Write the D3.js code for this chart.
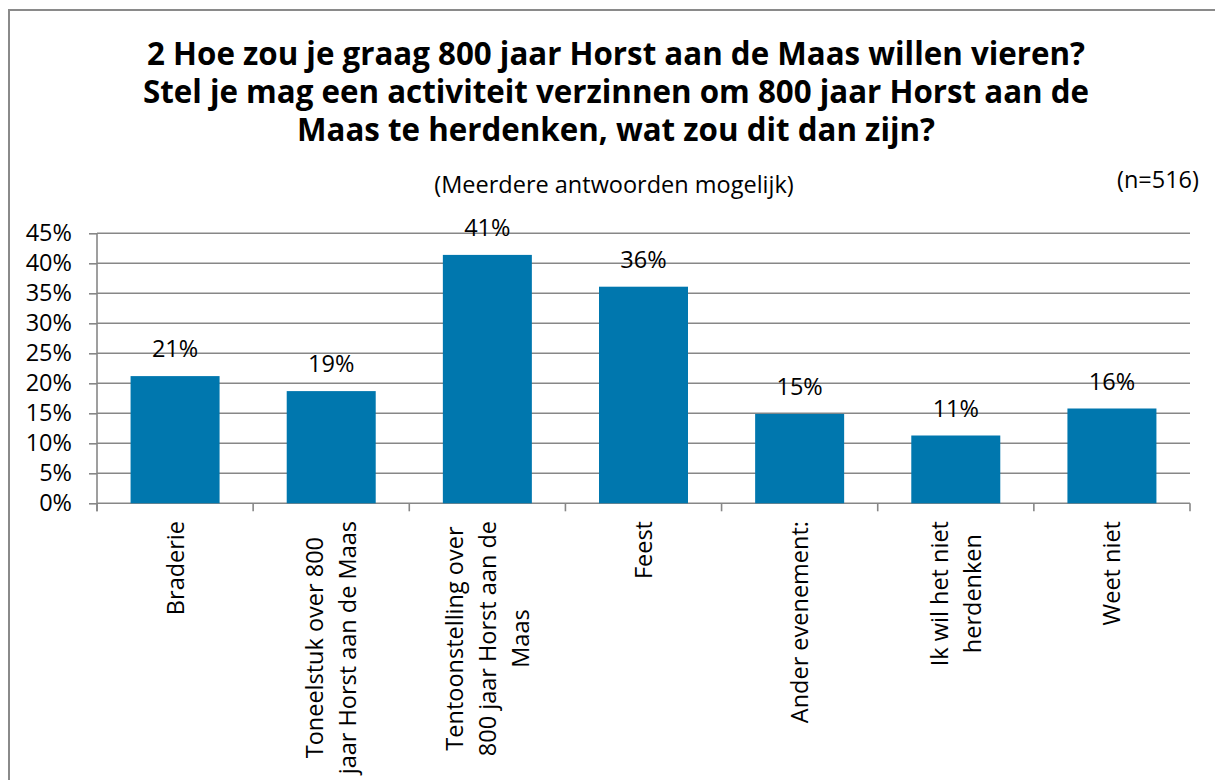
<!DOCTYPE html>
<html>
<head>
<meta charset="utf-8">
<script src="https://cdn.jsdelivr.net/npm/d3@7"></script>
<style>
  html, body { margin: 0; padding: 0; background: #fff; }
  svg { display: block; font-family: 'Open Sans', 'Noto Sans', sans-serif; }
</style>
</head>
<body>
<svg id="chart" width="1215" height="780"></svg>
<script>
const categories = [
  'Braderie',
  'Toneelstuk over 800 jaar Horst aan de Maas',
  'Tentoonstelling over 800 jaar Horst aan de Maas',
  'Feest',
  'Ander evenement:',
  'Ik wil het niet herdenken',
  'Weet niet',
]
// axis labels as Excel wrapped them
const categoryLines = [
  ['Braderie'],
  ['Toneelstuk over 800', 'jaar Horst aan de Maas'],
  ['Tentoonstelling over', '800 jaar Horst aan de', 'Maas'],
  ['Feest'],
  ['Ander evenement:'],
  ['Ik wil het niet', 'herdenken'],
  ['Weet niet'],
]
const values = [21.2, 18.7, 41.4, 36.1, 14.9, 11.3, 15.8]
const yTicks = [0, 5, 10, 15, 20, 25, 30, 35, 40, 45]
const titleLines = [
  '2 Hoe zou je graag 800 jaar Horst aan de Maas willen vieren?',
  'Stel je mag een activiteit verzinnen om 800 jaar Horst aan de',
  'Maas te herdenken, wat zou dit dan zijn?',
]
const subtitle = '(Meerdere antwoorden mogelijk)'
const sampleNote = '(n=516)'

const barColor = '#0077ae'
const gridColor = '#878787'
const fontSize = 23.5
const margin = { left: 97, right: 1190, top: 233.3, bottom: 503.3 }

const svg = d3.select('#chart')

// kader
svg
  .append('rect')
  .attr('x', 9)
  .attr('y', 10)
  .attr('width', 1230)
  .attr('height', 800)
  .attr('fill', '#fff')
  .attr('stroke', '#8a8a8a')
  .attr('stroke-width', 2)

// titel
svg
  .append('g')
  .selectAll('text')
  .data(titleLines)
  .join('text')
  .attr('x', 616)
  .attr('y', (d, i) => 65 + i * 38)
  .attr('text-anchor', 'middle')
  .attr('font-size', 31.3)
  .attr('font-weight', 'bold')
  .attr('fill', '#000')
  .text(d => d)

svg
  .append('text')
  .attr('x', 614)
  .attr('y', 193)
  .attr('text-anchor', 'middle')
  .attr('font-size', fontSize)
  .text(subtitle)

svg
  .append('text')
  .attr('x', 1199)
  .attr('y', 188)
  .attr('text-anchor', 'end')
  .attr('font-size', fontSize)
  .text(sampleNote)

const x = d3
  .scaleBand()
  .domain(categories)
  .range([margin.left, margin.right])
  .paddingInner(0.43)
  .paddingOuter(0.215)

const y = d3.scaleLinear().domain([0, 45]).range([margin.bottom, margin.top])

// rasterlijnen
svg
  .append('g')
  .selectAll('line')
  .data(yTicks)
  .join('line')
  .attr('x1', margin.left)
  .attr('x2', margin.right)
  .attr('y1', d => y(d))
  .attr('y2', d => y(d))
  .attr('stroke', gridColor)
  .attr('stroke-width', 1.6)

// y-as
const yAxis = d3
  .axisLeft(y)
  .tickValues(yTicks)
  .tickSize(8)
  .tickPadding(17)
  .tickFormat(d => d + '%')

const yG = svg.append('g').attr('transform', `translate(${margin.left},0)`).call(yAxis)
yG.select('.domain').remove()
yG.selectAll('.tick line').attr('stroke', gridColor).attr('stroke-width', 1.6)
yG.selectAll('.tick text').attr('font-size', fontSize).attr('fill', '#000')
yG.attr('font-family', null)

svg
  .append('line')
  .attr('x1', margin.left)
  .attr('x2', margin.left)
  .attr('y1', margin.top)
  .attr('y2', margin.bottom + 8)
  .attr('stroke', gridColor)
  .attr('stroke-width', 1.6)

// x-as tickmarks op de categoriegrenzen
const bounds = d3.range(categories.length + 1).map(i => margin.left + i * x.step())
svg
  .append('g')
  .selectAll('line')
  .data(bounds)
  .join('line')
  .attr('x1', d => d)
  .attr('x2', d => d)
  .attr('y1', margin.bottom)
  .attr('y2', margin.bottom + 8)
  .attr('stroke', gridColor)
  .attr('stroke-width', 1.6)

// staven
svg
  .append('g')
  .selectAll('rect')
  .data(values)
  .join('rect')
  .attr('x', (d, i) => x(categories[i]))
  .attr('y', d => y(d))
  .attr('width', x.bandwidth())
  .attr('height', d => y(0) - y(d))
  .attr('fill', barColor)

// waardelabels
svg
  .append('g')
  .selectAll('text')
  .data(values)
  .join('text')
  .attr('x', (d, i) => x(categories[i]) + x.bandwidth() / 2)
  .attr('y', d => y(d) - 19)
  .attr('text-anchor', 'middle')
  .attr('font-size', fontSize)
  .text(d => Math.round(d) + '%')

// gedraaide categorielabels, regels onderling gecentreerd
const lineGap = 33
const labelG = svg
  .append('g')
  .selectAll('g')
  .data(categoryLines)
  .join('g')
  .attr('transform', (d, i) => `translate(${x(categories[i]) + x.bandwidth() / 2},521) rotate(-90)`)

labelG.each(function (lines) {
  const g = d3.select(this)
  const texts = g
    .selectAll('text')
    .data(lines)
    .join('text')
    .attr('text-anchor', 'middle')
    .attr('font-size', fontSize)
    .attr('y', (t, j) => (j - (lines.length - 1) / 2) * lineGap + 8.5)
    .text(t => t)
  const maxW = d3.max(texts.nodes(), n => n.getComputedTextLength())
  texts.attr('x', -maxW / 2)
})
</script>
</body>
</html>
